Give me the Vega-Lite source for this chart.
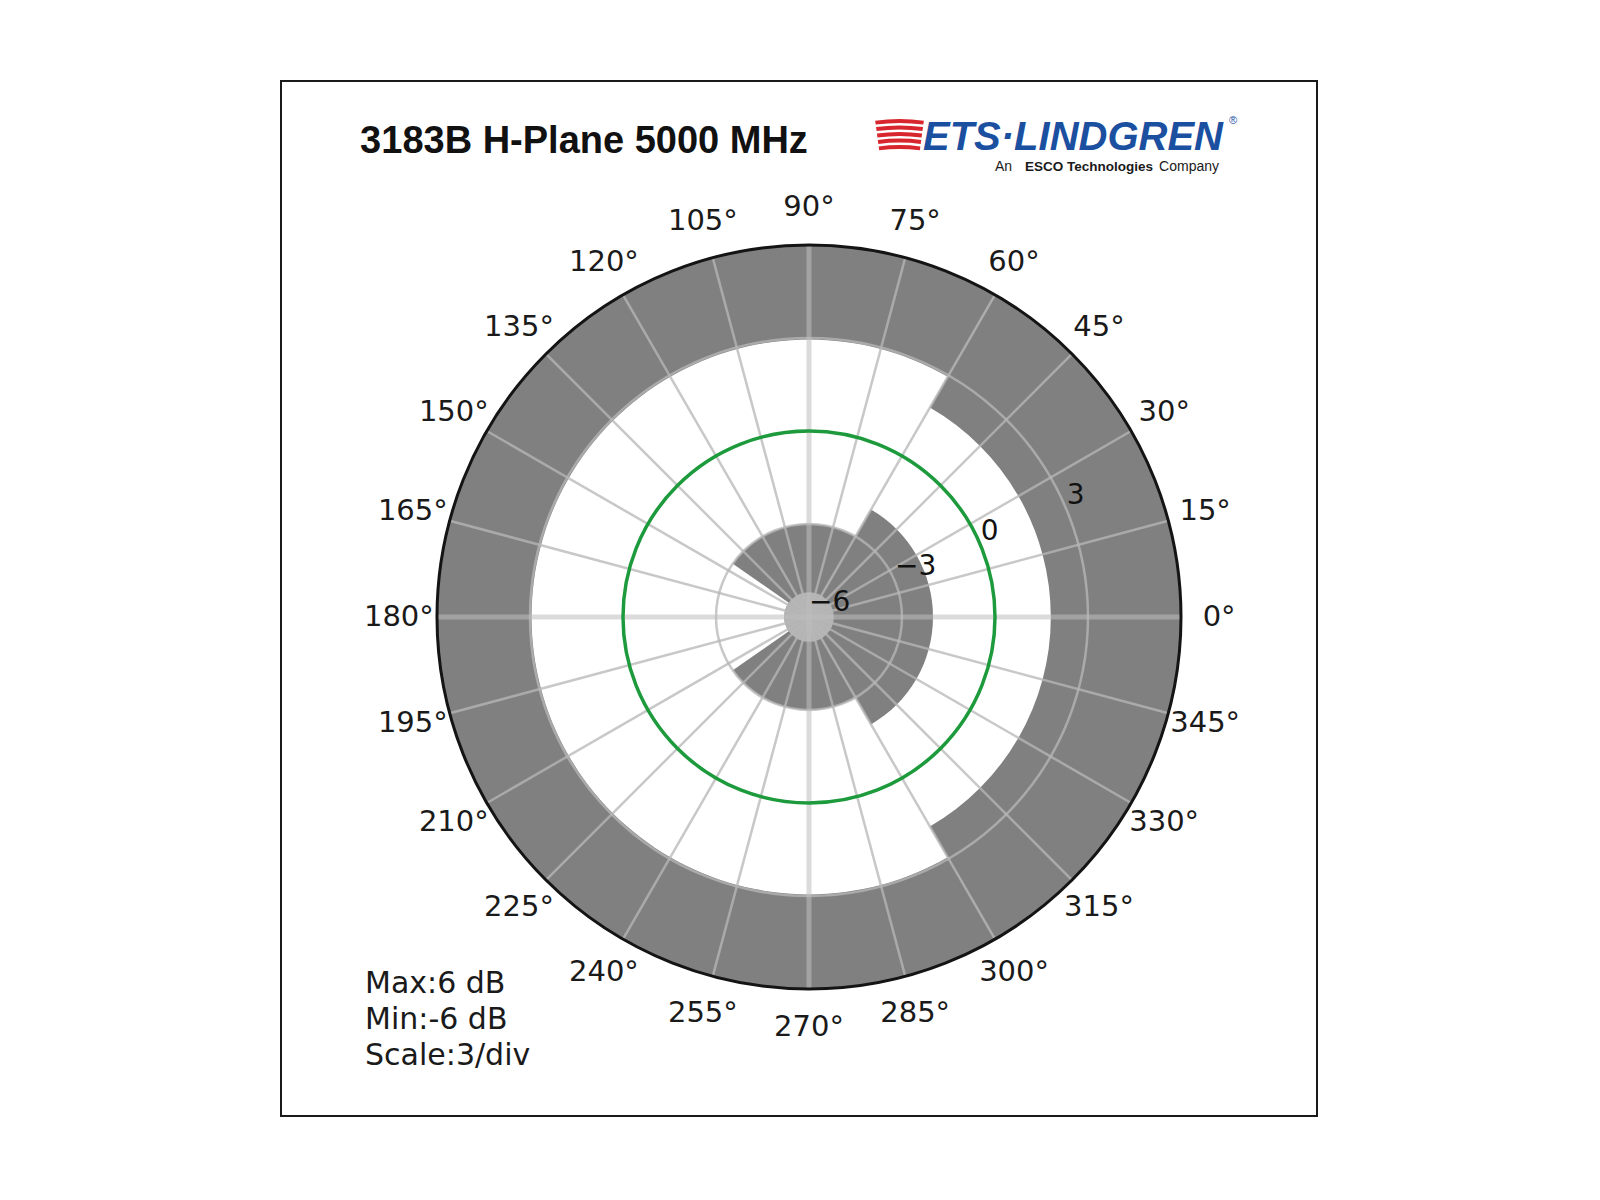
{
  "$schema": "https://vega.github.io/schema/vega-lite/v6.json",
  "width": 1036,
  "height": 1035,
  "autosize": {"type": "none"},
  "padding": {"left": 281, "top": 81, "right": 283, "bottom": 84},
  "background": "white",
  "config": {"view": {"stroke": "#1a1a1a", "strokeWidth": 2}},
  "datasets": {
    "fills": [
      {"a": -60, "a2": 60, "r": 6, "r2": 1.8},
      {"a": 60, "a2": 300, "r": 6, "r2": 2.95},
      {"a": -60, "a2": 60, "r": -2.0, "r2": -6},
      {"a": 60, "a2": 145, "r": -3, "r2": -6},
      {"a": 145, "a2": 215, "r": -5.2, "r2": -6},
      {"a": 215, "a2": 300, "r": -3, "r2": -6}
    ],
    "centre": [{"a": 0, "a2": 361, "r": -5.2, "r2": -6}],
    "gridcircles": [{"a": 0, "a2": 361, "r": -3, "r2": -6}, {"a": 0, "a2": 361, "r": 3, "r2": -6}],
    "outer": [{"a": 0, "a2": 361, "r": 6, "r2": -6}],
    "pattern": [{"a": 0, "a2": 361, "r": 0, "r2": -6}],
    "spokes": [
      {"a": 15}, {"a": 30}, {"a": 45}, {"a": 60}, {"a": 75}, {"a": 105}, {"a": 120}, {"a": 135}, {"a": 150}, {"a": 165},
      {"a": 195}, {"a": 210}, {"a": 225}, {"a": 240}, {"a": 255}, {"a": 285}, {"a": 300}, {"a": 315}, {"a": 330}, {"a": 345}
    ],
    "majorspokes": [{"a": 0}, {"a": 90}, {"a": 180}, {"a": 270}],
    "anglelabels": [
      {"a": 0, "label": "0°"}, {"a": 15, "label": "15°"}, {"a": 30, "label": "30°"}, {"a": 45, "label": "45°"},
      {"a": 60, "label": "60°"}, {"a": 75, "label": "75°"}, {"a": 90, "label": "90°"}, {"a": 105, "label": "105°"},
      {"a": 120, "label": "120°"}, {"a": 135, "label": "135°"}, {"a": 150, "label": "150°"}, {"a": 165, "label": "165°"},
      {"a": 180, "label": "180°"}, {"a": 195, "label": "195°"}, {"a": 210, "label": "210°"}, {"a": 225, "label": "225°"},
      {"a": 240, "label": "240°"}, {"a": 255, "label": "255°"}, {"a": 270, "label": "270°"}, {"a": 285, "label": "285°"},
      {"a": 300, "label": "300°"}, {"a": 315, "label": "315°"}, {"a": 330, "label": "330°"}, {"a": 345, "label": "345°"}
    ],
    "rlabels": [
      {"r": -6, "label": "−6"}, {"r": -3, "label": "−3"}, {"r": 0, "label": "0"}, {"r": 3, "label": "3"}
    ]
  },
  "encoding": {
    "x": {"datum": 0, "type": "quantitative", "scale": {"domain": [-17.032, 16.387], "nice": false, "zero": false}, "axis": null},
    "y": {"datum": 0, "type": "quantitative", "scale": {"domain": [-16.097, 17.29], "nice": false, "zero": false}, "axis": null}
  },
  "layer": [
    {
      "data": {"name": "fills"},
      "mark": {"type": "arc", "fill": "#808080", "strokeWidth": 0},
      "encoding": {
        "theta": {"field": "a", "type": "quantitative", "stack": null, "scale": {"domain": [0, 360], "range": [1.5707963, -4.712389]}},
        "theta2": {"field": "a2"},
        "radius": {"field": "r", "type": "quantitative", "scale": {"type": "linear", "domain": [-6, 6], "range": [0, 372], "zero": false, "nice": false}},
        "radius2": {"field": "r2"}
      }
    },
    {
      "data": {"name": "centre"},
      "mark": {"type": "arc", "fill": "#b4b4b4", "strokeWidth": 0},
      "encoding": {
        "theta": {"field": "a", "type": "quantitative", "stack": null},
        "theta2": {"field": "a2"},
        "radius": {"field": "r", "type": "quantitative"},
        "radius2": {"field": "r2"}
      }
    },
    {
      "data": {"name": "gridcircles"},
      "mark": {"type": "arc", "filled": false, "fill": null, "stroke": "#b7b7b7", "strokeOpacity": 0.76, "strokeWidth": 2.5},
      "encoding": {
        "theta": {"field": "a", "type": "quantitative", "stack": null},
        "theta2": {"field": "a2"},
        "radius": {"field": "r", "type": "quantitative"},
        "radius2": {"field": "r2"}
      }
    },
    {
      "data": {"name": "spokes"},
      "mark": {"type": "point", "shape": "M0,0L1,0", "size": 553536, "filled": false, "opacity": 1, "stroke": "#b7b7b7", "strokeOpacity": 0.76, "strokeWidth": 2.5},
      "encoding": {
        "angle": {"field": "a", "type": "quantitative", "scale": {"domain": [0, 360], "range": [0, -360]}}
      }
    },
    {
      "data": {"name": "majorspokes"},
      "mark": {"type": "point", "shape": "M0,0L1,0", "size": 553536, "filled": false, "opacity": 1, "stroke": "#bdbdbd", "strokeOpacity": 0.55, "strokeWidth": 5},
      "encoding": {
        "angle": {"field": "a", "type": "quantitative", "scale": {"domain": [0, 360], "range": [0, -360]}}
      }
    },
    {
      "data": {"name": "outer"},
      "mark": {"type": "arc", "filled": false, "fill": null, "stroke": "#141414", "strokeWidth": 3},
      "encoding": {
        "theta": {"field": "a", "type": "quantitative", "stack": null},
        "theta2": {"field": "a2"},
        "radius": {"field": "r", "type": "quantitative"},
        "radius2": {"field": "r2"}
      }
    },
    {
      "data": {"name": "pattern"},
      "mark": {"type": "arc", "filled": false, "fill": null, "stroke": "#1c9a3c", "strokeWidth": 3.5},
      "encoding": {
        "theta": {"field": "a", "type": "quantitative", "stack": null},
        "theta2": {"field": "a2"},
        "radius": {"field": "r", "type": "quantitative"},
        "radius2": {"field": "r2"}
      }
    },
    {
      "data": {"name": "anglelabels"},
      "mark": {"type": "text", "font": "DejaVu Sans", "fontSize": 29, "color": "#1a1a1a", "align": "center", "baseline": "middle"},
      "encoding": {
        "theta": {"field": "a", "type": "quantitative", "stack": null},
        "radius": {"datum": 7.23, "type": "quantitative"},
        "text": {"field": "label"}
      }
    },
    {
      "data": {"name": "rlabels"},
      "mark": {"type": "text", "font": "DejaVu Sans", "fontSize": 28, "color": "#111111", "align": "left", "baseline": "bottom"},
      "encoding": {
        "theta": {"datum": 22.5, "type": "quantitative"},
        "radius": {"field": "r", "type": "quantitative"},
        "text": {"field": "label"}
      }
    },
    {
      "data": {"values": [{}]},
      "mark": {"type": "text", "text": "3183B H-Plane 5000 MHz", "font": "Liberation Sans", "fontWeight": "bold", "fontSize": 38, "color": "#111111", "align": "left", "baseline": "alphabetic"},
      "encoding": {
        "x": {"datum": -14.48, "type": "quantitative"},
        "y": {"datum": 14.97, "type": "quantitative"}
      }
    },
    {
      "data": {"values": [{}]},
      "mark": {"type": "text", "text": "ETS·LINDGREN", "font": "Liberation Sans", "fontWeight": "bold", "fontStyle": "italic", "fontSize": 40, "color": "#1b4f9f", "align": "left", "baseline": "alphabetic"},
      "encoding": {
        "x": {"datum": 3.677, "type": "quantitative"},
        "y": {"datum": 15.07, "type": "quantitative"}
      }
    },
    {
      "data": {"values": [{}]},
      "mark": {"type": "text", "text": "®", "font": "Liberation Sans", "fontSize": 11, "color": "#1b4f9f", "align": "left", "baseline": "middle"},
      "encoding": {
        "x": {"datum": 13.55, "type": "quantitative"},
        "y": {"datum": 16.0, "type": "quantitative"}
      }
    },
    {
      "data": {"values": [{}]},
      "mark": {"type": "text", "text": "Company", "font": "Liberation Sans", "fontSize": 14, "color": "#1a1a1a", "align": "right", "baseline": "alphabetic"},
      "encoding": {
        "x": {"datum": 13.226, "type": "quantitative"},
        "y": {"datum": 14.39, "type": "quantitative"}
      }
    },
    {
      "data": {"values": [{}]},
      "mark": {"type": "text", "text": "ESCO Technologies", "font": "Liberation Sans", "fontWeight": "bold", "fontSize": 13.5, "color": "#1a1a1a", "align": "right", "baseline": "alphabetic"},
      "encoding": {
        "x": {"datum": 11.10, "type": "quantitative"},
        "y": {"datum": 14.39, "type": "quantitative"}
      }
    },
    {
      "data": {"values": [{}]},
      "mark": {"type": "text", "text": "An", "font": "Liberation Sans", "fontSize": 14, "color": "#1a1a1a", "align": "right", "baseline": "alphabetic"},
      "encoding": {
        "x": {"datum": 6.55, "type": "quantitative"},
        "y": {"datum": 14.39, "type": "quantitative"}
      }
    },
    {
      "data": {"values": [{}]},
      "mark": {"type": "arc", "fill": "#d8262e", "theta": -0.135, "theta2": 0.135, "radius": 181, "radius2": 177},
      "encoding": {"x": {"datum": 2.92, "type": "quantitative"}, "y": {"datum": 10.226, "type": "quantitative"}}
    },
    {
      "data": {"values": [{}]},
      "mark": {"type": "arc", "fill": "#d8262e", "theta": -0.135, "theta2": 0.135, "radius": 174.5, "radius2": 170.5},
      "encoding": {"x": {"datum": 2.92, "type": "quantitative"}, "y": {"datum": 10.226, "type": "quantitative"}}
    },
    {
      "data": {"values": [{}]},
      "mark": {"type": "arc", "fill": "#d8262e", "theta": -0.135, "theta2": 0.135, "radius": 168, "radius2": 164},
      "encoding": {"x": {"datum": 2.92, "type": "quantitative"}, "y": {"datum": 10.226, "type": "quantitative"}}
    },
    {
      "data": {"values": [{}]},
      "mark": {"type": "arc", "fill": "#d8262e", "theta": -0.135, "theta2": 0.135, "radius": 161.5, "radius2": 157.5},
      "encoding": {"x": {"datum": 2.92, "type": "quantitative"}, "y": {"datum": 10.226, "type": "quantitative"}}
    },
    {
      "data": {"values": [{}]},
      "mark": {"type": "arc", "fill": "#d8262e", "theta": -0.135, "theta2": 0.135, "radius": 155, "radius2": 151},
      "encoding": {"x": {"datum": 2.92, "type": "quantitative"}, "y": {"datum": 10.226, "type": "quantitative"}}
    },
    {
      "data": {"values": [{}]},
      "mark": {"type": "text", "text": ["Max:6 dB", "Min:-6 dB", "Scale:3/div"], "lineHeight": 36, "font": "DejaVu Sans", "fontSize": 30, "color": "#1a1a1a", "align": "left", "baseline": "alphabetic"},
      "encoding": {
        "x": {"datum": -14.32, "type": "quantitative"},
        "y": {"datum": -12.13, "type": "quantitative"}
      }
    }
  ]
}
